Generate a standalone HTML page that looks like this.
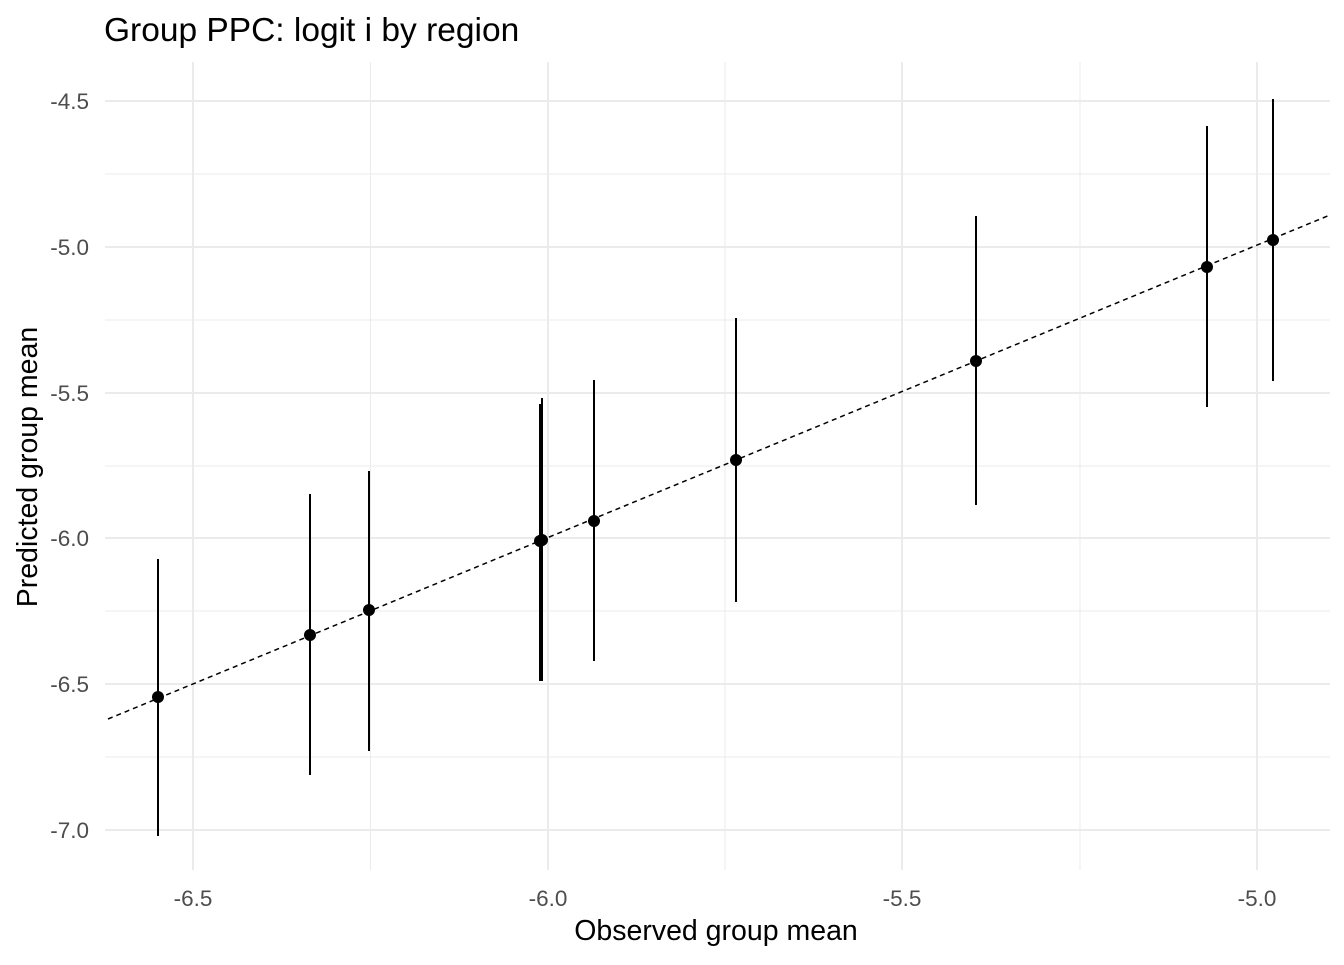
<!DOCTYPE html>
<html><head><style>body{margin:0;background:#fff}</style></head><body>
<svg width="1344" height="960" xmlns="http://www.w3.org/2000/svg" font-family="Liberation Sans, sans-serif">
<rect width="1344" height="960" fill="#fff"/>
<g stroke="#ebebeb" stroke-width="1">
<line x1="105" x2="1330" y1="174" y2="174"/><line x1="105" x2="1330" y1="320" y2="320"/>
<line x1="105" x2="1330" y1="466" y2="466"/><line x1="105" x2="1330" y1="611" y2="611"/>
<line x1="105" x2="1330" y1="757" y2="757"/>
<line x1="370.5" x2="370.5" y1="62" y2="870"/><line x1="725" x2="725" y1="62" y2="870"/><line x1="1080" x2="1080" y1="62" y2="870"/>
</g>
<g stroke="#ebebeb" stroke-width="2">
<line x1="105" x2="1330" y1="101" y2="101"/><line x1="105" x2="1330" y1="247" y2="247"/>
<line x1="105" x2="1330" y1="393" y2="393"/><line x1="105" x2="1330" y1="538" y2="538"/>
<line x1="105" x2="1330" y1="684" y2="684"/><line x1="105" x2="1330" y1="830" y2="830"/>
<line x1="193" x2="193" y1="62" y2="870"/><line x1="548" x2="548" y1="62" y2="870"/>
<line x1="902" x2="902" y1="62" y2="870"/><line x1="1257" x2="1257" y1="62" y2="870"/>
</g>
<line x1="108" y1="719" x2="1330" y2="215" stroke="#000" stroke-width="1.5" stroke-dasharray="5,4"/>
<g stroke="#000" stroke-width="2">
<line x1="158" x2="158" y1="559" y2="836"/>
<line x1="310" x2="310" y1="494" y2="775"/>
<line x1="369" x2="369" y1="471" y2="751"/>
<line x1="540" x2="540" y1="404" y2="681"/>
<line x1="542" x2="542" y1="398" y2="681"/>
<line x1="594" x2="594" y1="380" y2="661"/>
<line x1="736" x2="736" y1="318" y2="602"/>
<line x1="976" x2="976" y1="216" y2="505"/>
<line x1="1207" x2="1207" y1="126" y2="407"/>
<line x1="1273" x2="1273" y1="99" y2="381"/>
</g>
<g fill="#000">
<circle cx="158" cy="697" r="6"/><circle cx="310" cy="635" r="6"/><circle cx="369" cy="610" r="6"/>
<circle cx="540" cy="541" r="6"/><circle cx="542" cy="540" r="6"/><circle cx="594" cy="521" r="6"/>
<circle cx="736" cy="460" r="6"/><circle cx="976" cy="361" r="6"/><circle cx="1207" cy="267" r="6"/>
<circle cx="1273" cy="240" r="6"/>
</g>
<g fill="#4d4d4d" font-size="22.5" text-anchor="end">
<text x="89" y="109">-4.5</text><text x="89" y="255">-5.0</text><text x="89" y="401">-5.5</text>
<text x="89" y="546">-6.0</text><text x="89" y="692">-6.5</text><text x="89" y="838">-7.0</text>
</g>
<g fill="#4d4d4d" font-size="22.5" text-anchor="middle">
<text x="193" y="906">-6.5</text><text x="548" y="906">-6.0</text><text x="902" y="906">-5.5</text><text x="1257" y="906">-5.0</text>
</g>
<text x="716" y="940" font-size="28.5" text-anchor="middle">Observed group mean</text>
<text transform="translate(37,467) rotate(-90)" font-size="28.5" text-anchor="middle">Predicted group mean</text>
<text x="104" y="41" font-size="33.5">Group PPC: logit i by region</text>
</svg>
</body></html>
